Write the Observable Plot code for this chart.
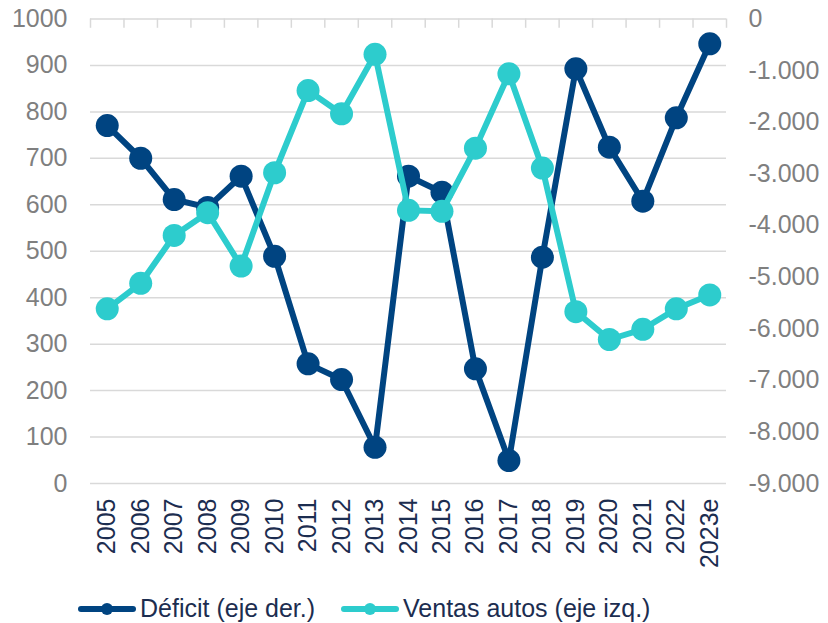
<!DOCTYPE html>
<html>
<head>
<meta charset="utf-8">
<script src="https://cdn.jsdelivr.net/npm/d3@7"></script>
<script src="https://cdn.jsdelivr.net/npm/@observablehq/plot@0.6"></script>
<style>
  html, body { margin: 0; padding: 0; background: #fff; }
  body { width: 828px; height: 623px; overflow: hidden; font-family: "Liberation Sans", Arial, sans-serif; }
  #legend { display: flex; align-items: center; height: 35px; margin-top: 3px; padding-left: 78px; font-size: 25px; color: #1c2d50; }
  .item { display: flex; align-items: center; margin-right: 26px; }
  .item svg { margin-right: 4px; }
</style>
</head>
<body>
<div id="chart"></div>
<div id="legend"></div>
<script>
const categories = ["2005","2006","2007","2008","2009","2010","2011","2012","2013","2014","2015","2016","2017","2018","2019","2020","2021","2022","2023e"];
// Ventas autos (eje izq.)
const ventas = [376, 431, 534, 583, 468, 669, 846, 796, 924, 588, 586, 722, 882, 679, 370, 310, 332, 376, 406];
// Déficit (eje der.)
const deficit = [-2064, -2698, -3498, -3650, -3046, -4597, -6682, -6986, -8298, -3046, -3356, -6779, -8556, -4616, -965, -2484, -3531, -1915, -481];
const leftTicks = [0, 100, 200, 300, 400, 500, 600, 700, 800, 900, 1000];
const rightTicks = [0, -1000, -2000, -3000, -4000, -5000, -6000, -7000, -8000, -9000];
const seriesNames = ["Déficit (eje der.)", "Ventas autos (eje izq.)"];
const colors = ["#004481", "#2dcccd"];

const rightMin = -9000, rightMax = 0, leftMax = 1000;
const toLeft = v => (v - rightMin) / (rightMax - rightMin) * leftMax;
const fromLeft = d => d / leftMax * (rightMax - rightMin) + rightMin;
const locale = d3.formatLocale({decimal: ",", thousands: ".", grouping: [3], currency: ["", ""], minus: "-"});
const fmt = locale.format(",");

const ventasData = categories.map((c, i) => ({i, v: ventas[i]}));
const deficitData = categories.map((c, i) => ({i, v: toLeft(deficit[i])}));
const bounds = categories.map((c, i) => i - 0.5).concat([categories.length - 0.5]);

const font = "'Liberation Sans', Arial, sans-serif";
const chart = Plot.plot({
  width: 828,
  height: 588,
  marginTop: 18.5,
  marginBottom: 105,
  marginLeft: 90,
  marginRight: 102,
  style: {fontFamily: font, fontSize: "25px", background: "#fff", overflow: "visible"},
  x: {type: "linear", domain: [-0.5, categories.length - 0.5]},
  y: {domain: [0, leftMax]},
  marks: [
    Plot.ruleY(leftTicks, {y: d => d, stroke: "#d9d9d9", strokeWidth: 1.5}),
    Plot.ruleX(bounds, {x: d => d, y1: leftMax, y2: leftMax - 20, stroke: "#d9d9d9", strokeWidth: 1.5}),
    Plot.axisY(leftTicks, {anchor: "left", tickSize: 0, tickPadding: 23, label: null, fill: "#7f7f7f", fontSize: 25, tickFormat: d => String(d)}),
    Plot.axisY(rightTicks.map(toLeft), {anchor: "right", tickSize: 0, tickPadding: 22, label: null, fill: "#7f7f7f", fontSize: 25, textAnchor: "start", tickFormat: d => fmt(Math.round(fromLeft(d)))}),
    Plot.axisX(categories.map((c, i) => i), {anchor: "bottom", tickSize: 0, tickPadding: 15, label: null, tickRotate: -90, fill: "#1c2d50", fontSize: 25, tickFormat: i => categories[i]}),
    Plot.line(deficitData, {x: "i", y: "v", stroke: colors[0], strokeWidth: 6}),
    Plot.dot(deficitData, {x: "i", y: "v", r: 11.5, fill: colors[0]}),
    Plot.line(ventasData, {x: "i", y: "v", stroke: colors[1], strokeWidth: 6}),
    Plot.dot(ventasData, {x: "i", y: "v", r: 11.5, fill: colors[1]})
  ]
});
document.getElementById("chart").appendChild(chart);

const legend = document.getElementById("legend");
seriesNames.forEach((name, k) => {
  const item = document.createElement("div");
  item.className = "item";
  item.innerHTML = `<svg width="58" height="16"><line x1="3" y1="8" x2="55" y2="8" stroke="${colors[k]}" stroke-width="6" stroke-linecap="round"/><circle cx="29" cy="8" r="6" fill="${colors[k]}"/></svg><span>${name}</span>`;
  legend.appendChild(item);
});
</script>
</body>
</html>
